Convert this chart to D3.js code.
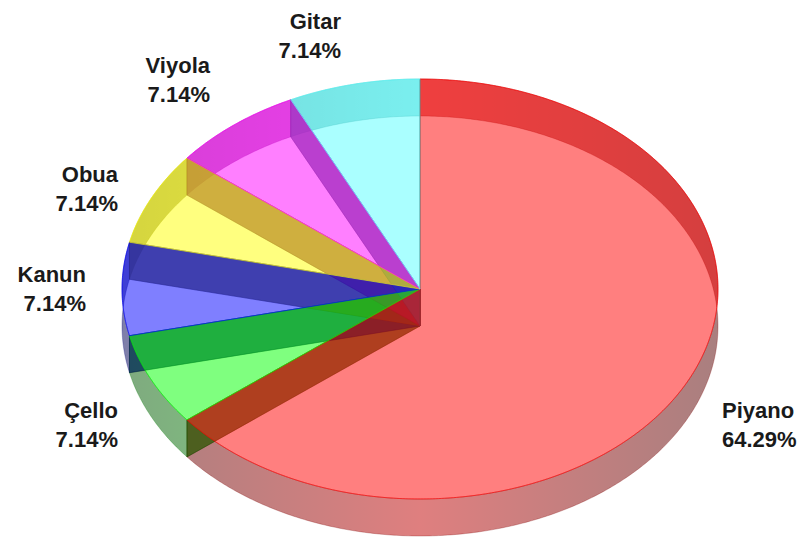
<!DOCTYPE html>
<html><head><meta charset="utf-8">
<script src="https://cdn.jsdelivr.net/npm/d3@7"></script>
<style>html,body{margin:0;padding:0;background:#fff;} svg{display:block}</style>
</head><body><svg id="chart" width="805" height="538"></svg>
<script>
// ---- data ----
const categories = ["Piyano", "Çello", "Kanun", "Obua", "Viyola", "Gitar"];
const values = [9, 1, 1, 1, 1, 1];
const percentLabels = ["64.29%", "7.14%", "7.14%", "7.14%", "7.14%", "7.14%"];
const sliceColors = ["#ff0000", "#00ff00", "#0000ff", "#ffff00", "#ff00ff", "#55ffff"];

// ---- layout ----
const cx = 420, cy = 289, rx = 298, ry = 210, depth = 37;
const labelLayout = [
  {x: 722, y: 418, anchor: "start"},
  {x: 118, y: 418, anchor: "end"},
  {x: 86,  y: 282, anchor: "end"},
  {x: 118, y: 182, anchor: "end"},
  {x: 210, y: 73,  anchor: "end"},
  {x: 341, y: 29,  anchor: "end"}
];

const svg = d3.select("#chart");
const pie = d3.pie().sort(null).value(d => d.v).startAngle(0).endAngle(2 * Math.PI);
const arcs = pie(categories.map((c, i) => ({name: c, v: values[i], pct: percentLabels[i], i})));
const color = d3.scaleOrdinal().domain(categories).range(sliceColors);

function pt(a, dy = 0) { return [cx + rx * Math.sin(a), cy - ry * Math.cos(a) + dy]; }
function arcPts(a0, a1, dy = 0) {
  const n = Math.max(2, Math.ceil((a1 - a0) / 0.01));
  return d3.range(n + 1).map(k => pt(a0 + (a1 - a0) * k / n, dy));
}
const line = d3.line();
const shade = (c, k) => { const b = d3.rgb(c); return d3.rgb(b.r * k, b.g * k, b.b * k).formatHex(); };

// gradients for outer walls (horizontal lighting)
const defs = svg.append("defs");
categories.forEach((c, i) => {
  const g = defs.append("linearGradient").attr("id", "wall" + i)
    .attr("gradientUnits", "userSpaceOnUse")
    .attr("x1", cx - rx).attr("x2", cx + rx).attr("y1", 0).attr("y2", 0);
  [[0, 0.33], [0.5, 0.75], [1, 0.33]].forEach(([o, k]) =>
    g.append("stop").attr("offset", o).attr("stop-color", shade(color(c), k)));
});

// 1. outer walls
svg.append("g").selectAll("path").data(arcs).join("path")
  .attr("d", d => line(arcPts(d.startAngle, d.endAngle, 0)
      .concat(arcPts(d.startAngle, d.endAngle, depth).reverse())) + "Z")
  .attr("fill", d => `url(#wall${d.data.i})`)
  .attr("fill-opacity", 0.5)
  .attr("stroke", d => shade(color(d.data.name), 0.5))
  .attr("stroke-opacity", 0.35)
  .attr("stroke-width", 0.8);

// 2. radial walls (both sides of each slice)
const radial = [];
arcs.forEach(d => { radial.push({a: d.startAngle, d}); radial.push({a: d.endAngle, d}); });
svg.append("g").selectAll("path").data(radial).join("path")
  .attr("d", r => line([[cx, cy], pt(r.a, 0), pt(r.a, depth), [cx, cy + depth]]) + "Z")
  .attr("fill", r => shade(color(r.d.data.name), 0.5))
  .attr("fill-opacity", 0.5)
  .attr("stroke", r => shade(color(r.d.data.name), 0.4))
  .attr("stroke-opacity", 0.4)
  .attr("stroke-width", 0.8);

// 3. top faces
svg.append("g").selectAll("path").data(arcs).join("path")
  .attr("d", d => line([[cx, cy]].concat(arcPts(d.startAngle, d.endAngle, 0))) + "Z")
  .attr("fill", d => color(d.data.name))
  .attr("fill-opacity", 0.5)
  .attr("stroke", d => color(d.data.name))
  .attr("stroke-opacity", 0.6)
  .attr("stroke-width", 1);

// labels
const lab = svg.append("g")
  .attr("font-family", "'Liberation Sans', Arial, Helvetica, sans-serif")
  .attr("font-weight", "bold").attr("font-size", 22).attr("fill", "#1a1a1a");
arcs.forEach(d => {
  const L = labelLayout[d.data.i];
  const t = lab.append("text").attr("text-anchor", L.anchor);
  t.append("tspan").attr("x", L.x).attr("y", L.y).text(d.data.name);
  t.append("tspan").attr("x", L.x).attr("y", L.y + 29).text(d.data.pct);
});
</script>
</body></html>
